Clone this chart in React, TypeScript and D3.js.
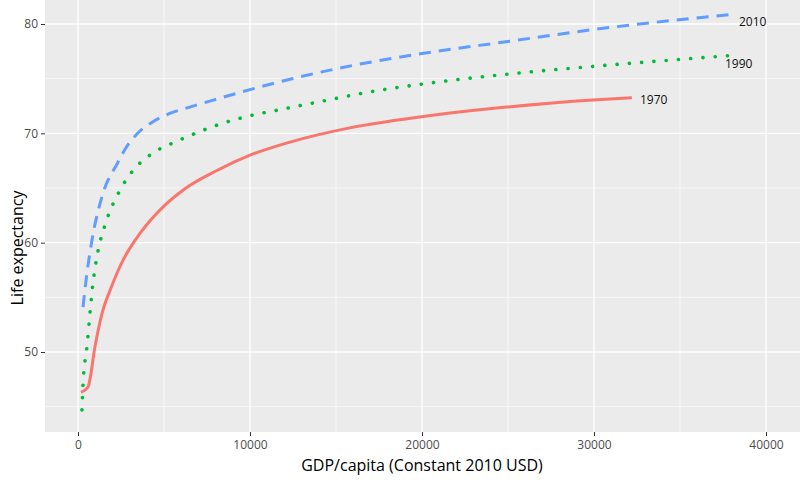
import { useEffect, useRef } from 'react';
import * as d3 from 'd3';

// GDP/capita vs life expectancy, by year
const gdp1970 = [174, 580, 1000, 1395, 1980, 2620, 3400, 4190, 5100, 6100, 8080, 10000, 12330, 15800, 19880, 24940, 29940, 32200];
const life1970 = [46.3, 46.8, 50.6, 53.5, 56.1, 58.4, 60.4, 62.0, 63.5, 64.8, 66.6, 68.0, 69.2, 70.5, 71.5, 72.4, 73.05, 73.25];

const gdp1990 = [230, 290, 520, 870, 1160, 1570, 2440, 3200, 4360, 5640, 6980, 8370, 9710, 11860, 14070, 17000, 20470, 25520, 30520, 37800];
const life1990 = [44.7, 47.0, 50.5, 56.3, 59.2, 61.6, 64.8, 66.6, 68.2, 69.2, 70.1, 70.9, 71.5, 72.2, 72.9, 73.8, 74.6, 75.5, 76.2, 77.1];

const gdp2010 = [290, 520, 810, 1450, 2270, 2800, 3400, 4200, 5300, 6500, 8000, 10000, 15000, 20000, 25000, 30000, 38200];
const life2010 = [54.1, 57.2, 60.2, 64.5, 67.2, 68.7, 69.9, 70.9, 71.8, 72.4, 73.1, 74.0, 75.9, 77.3, 78.4, 79.5, 80.9];

const xTicks = [0, 10000, 20000, 30000, 40000];
const yTicks = [50, 60, 70, 80];

const SERIES = [
    { label: '2010', xs: gdp2010, ys: life2010, color: '#619CFF', dash: '12,8', cap: 'butt', width: 3 },
    { label: '1990', xs: gdp1990, ys: life1990, color: '#00BA38', dash: '0.1,12.2', cap: 'round', width: 3.6 },
    { label: '1970', xs: gdp1970, ys: life1970, color: '#F8766D', dash: null, cap: 'butt', width: 3 },
];

const LABEL_POS: Record<string, [number, number]> = {
    '2010': [739, 26],
    '1990': [725, 68],
    '1970': [640, 104],
};

export default function App() {
    const svgRef = useRef<SVGSVGElement | null>(null);
    const width = 800;
    const height = 480;

    useEffect(() => {
        document.body.style.margin = '0';
        const svg = d3.select(svgRef.current);
        svg.selectAll('*').remove();

        const panel = { left: 45, right: 800, top: 0, bottom: 432 };

        const x = d3.scaleLinear().domain([0, 40000]).range([78, 766]);
        const y = d3.scaleLinear().domain([50, 80]).range([352, 24]);

        svg.append('rect')
            .attr('x', panel.left).attr('y', panel.top)
            .attr('width', panel.right - panel.left).attr('height', panel.bottom - panel.top)
            .attr('fill', '#EBEBEB');

        // minor grid
        const xMinor = [5000, 15000, 25000, 35000];
        const yMinor = [45, 55, 65, 75];
        svg.append('g').selectAll('line').data(xMinor).join('line')
            .attr('x1', d => x(d)).attr('x2', d => x(d))
            .attr('y1', panel.top).attr('y2', panel.bottom)
            .attr('stroke', '#fff').attr('stroke-width', 0.6);
        svg.append('g').selectAll('line').data(yMinor).join('line')
            .attr('x1', panel.left).attr('x2', panel.right)
            .attr('y1', d => y(d)).attr('y2', d => y(d))
            .attr('stroke', '#fff').attr('stroke-width', 0.6);

        // major grid
        svg.append('g').selectAll('line').data(xTicks).join('line')
            .attr('x1', d => x(d)).attr('x2', d => x(d))
            .attr('y1', panel.top).attr('y2', panel.bottom)
            .attr('stroke', '#fff').attr('stroke-width', 1.3);
        svg.append('g').selectAll('line').data(yTicks).join('line')
            .attr('x1', panel.left).attr('x2', panel.right)
            .attr('y1', d => y(d)).attr('y2', d => y(d))
            .attr('stroke', '#fff').attr('stroke-width', 1.3);

        // lines
        SERIES.forEach(s => {
            const pts = s.xs.map((v, i) => [v, s.ys[i]] as [number, number]);
            const line = d3.line<[number, number]>()
                .x(d => x(d[0]))
                .y(d => y(d[1]))
                .curve(d3.curveMonotoneX);
            svg.append('path')
                .datum(pts)
                .attr('d', line)
                .attr('fill', 'none')
                .attr('stroke', s.color)
                .attr('stroke-width', s.width)
                .attr('stroke-linecap', s.cap)
                .attr('stroke-dasharray', s.dash);

            const [lx, ly] = LABEL_POS[s.label];
            svg.append('text')
                .attr('x', lx).attr('y', ly)
                .style('font-family', '"Open Sans", sans-serif')
                .style('font-size', '12px')
                .style('fill', '#111')
                .text(s.label);
        });

        // axes
        const xAxis = svg.append('g')
            .attr('transform', `translate(0,${panel.bottom})`)
            .call(d3.axisBottom(x).tickValues(xTicks).tickSize(4).tickPadding(4).tickFormat(d => String(d)));
        xAxis.select('.domain').remove();
        xAxis.selectAll('line').attr('stroke', '#333');
        xAxis.selectAll('text').style('fill', '#4d4d4d').style('font-size', '12px')
            .style('font-family', '"Open Sans", sans-serif');

        const yAxis = svg.append('g')
            .attr('transform', `translate(${panel.left},0)`)
            .call(d3.axisLeft(y).tickValues(yTicks).tickSize(4).tickPadding(3).tickFormat(d => String(d)));
        yAxis.select('.domain').remove();
        yAxis.selectAll('line').attr('stroke', '#333');
        yAxis.selectAll('text').style('fill', '#4d4d4d').style('font-size', '12px')
            .style('font-family', '"Open Sans", sans-serif');

        svg.append('text')
            .attr('x', 422).attr('y', 471)
            .attr('text-anchor', 'middle')
            .style('font-family', '"Open Sans", sans-serif')
            .style('font-size', '16px')
            .style('fill', '#000')
            .text('GDP/capita (Constant 2010 USD)');

        svg.append('text')
            .attr('transform', `translate(23,248) rotate(-90)`)
            .attr('text-anchor', 'middle')
            .style('font-family', '"Open Sans", sans-serif')
            .style('font-size', '16px')
            .style('fill', '#000')
            .text('Life expectancy');
    }, []);

    return (
        <svg ref={svgRef} width={width} height={height}
            style={{ display: 'block', background: '#fff' }} />
    );
}
